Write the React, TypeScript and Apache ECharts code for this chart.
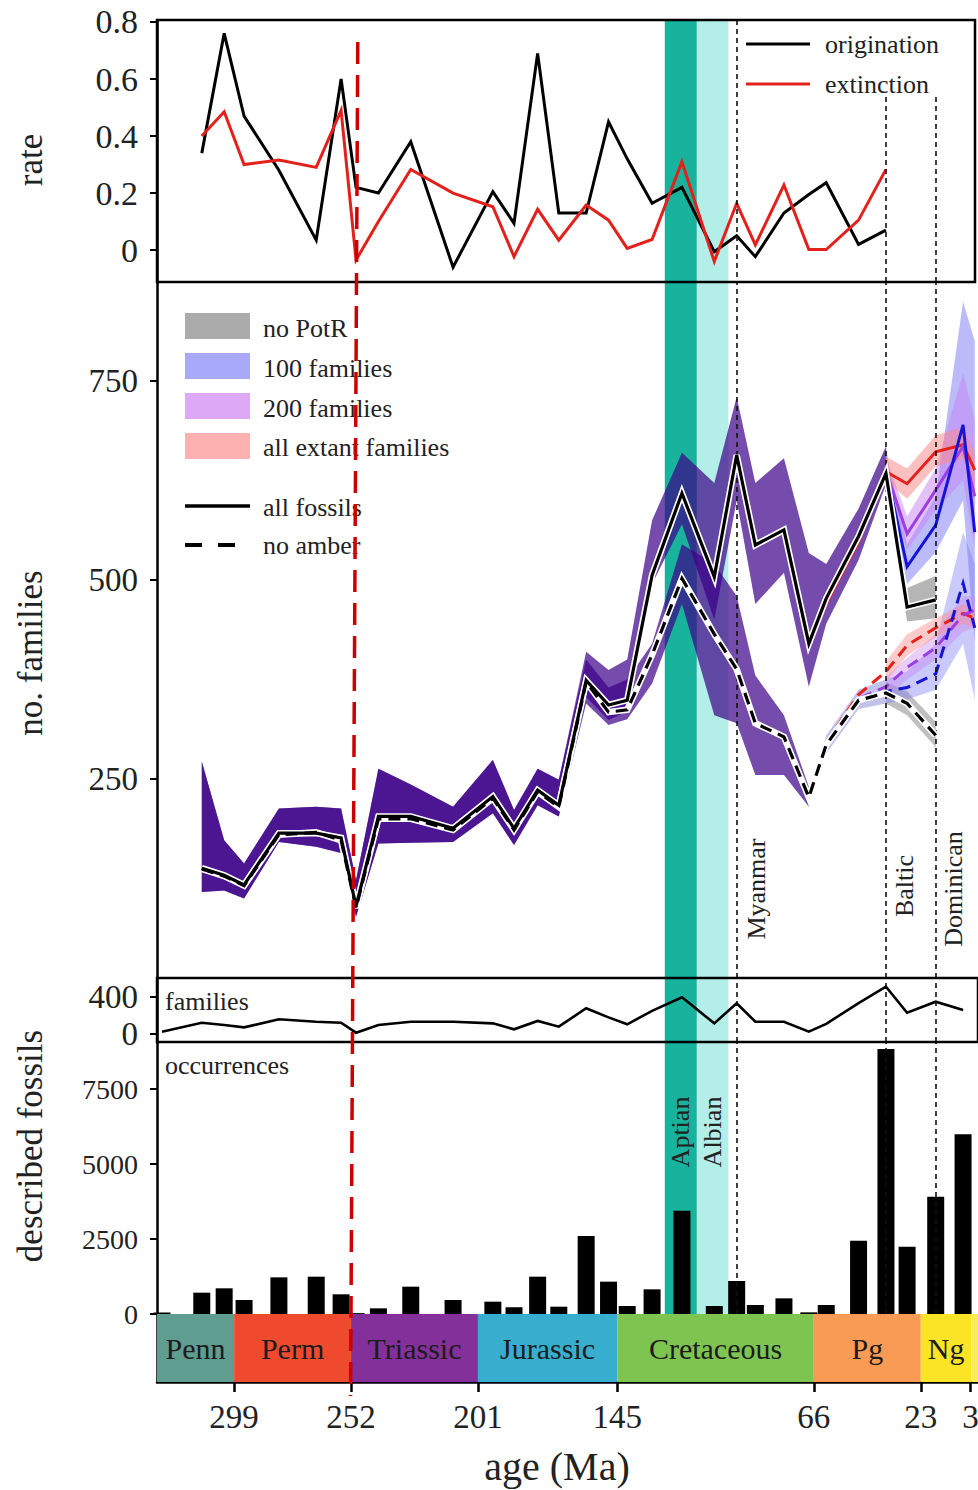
import { useEffect, useRef } from 'react';
import * as echarts from 'echarts';

const FONT = "'Liberation Serif', 'Times New Roman', Times, serif";

// bin ages (Ma)
const AGES = [328, 312, 303, 295, 281, 266, 256, 250, 241, 228, 211, 195, 186.5, 177, 168.5, 157.5, 148.5, 141, 131, 119, 106, 97, 89.5, 78, 68, 61, 48, 37, 28.5, 17, 6, 1.3];

// rate panel
const ORIGINATION = [null, 0.34, 0.76, 0.47, 0.28, 0.035, 0.6, 0.22, 0.2, 0.38, -0.06, 0.205, 0.094, 0.69, 0.13, 0.13, 0.45, 0.32, 0.164, 0.22, -0.006, 0.05, -0.023, 0.13, 0.195, 0.236, 0.02, 0.07, null, null, null, null];
const EXTINCTION = [null, 0.4, 0.485, 0.3, 0.316, 0.29, 0.49, -0.035, 0.1, 0.283, 0.2, 0.152, -0.023, 0.143, 0.035, 0.158, 0.105, 0.006, 0.037, 0.31, -0.04, 0.164, 0.018, 0.228, 0.002, 0.002, 0.105, 0.283, null, null, null, null];

// no. families panel
const ALL_FOSSILS = [null, 138, 129, 117, 182, 182, 176, 90, 203, 203, 188, 228, 188, 236, 217, 374, 343, 349, 506, 609, 504, 657, 544, 563, 420, 477, 555, 634, 466, 475, null, null];
const NO_AMBER = [null, 137, 128, 116, 180, 183, 173, 88, 200, 200, 186, 226, 186, 234, 215, 372, 334, 337, 406, 502, 432, 388, 320, 303, 227, 293, 349, 358, 345, 305, null, null];
const ALL_LO = [null, 108, 110, 100, 171, 165, 157, 77, 169, 170, 171, 207, 167, 217, 203, 353, 324, 335, 495, 570, 450, 600, 470, 509, 366, 445, 525, 620, null, null, null, null];
const ALL_HI = [null, 272, 173, 144, 213, 215, 213, 123, 263, 243, 215, 274, 211, 263, 249, 410, 387, 400, 575, 660, 622, 730, 622, 653, 534, 520, 590, 668, null, null, null, null];
const NA_LO = [null, 108, 110, 100, 171, 165, 157, 77, 169, 170, 171, 207, 167, 217, 203, 345, 318, 325, 370, 470, 330, 320, 255, 255, 215, null, null, null, null, null, null, null];
const NA_HI = [null, 272, 173, 144, 213, 215, 213, 123, 263, 243, 215, 274, 211, 263, 249, 400, 365, 375, 420, 545, 520, 480, 380, 330, 240, null, null, null, null, null, null, null];

const CENO_AGES = [68, 61, 48, 37, 28.5, 17, 6, 1.3];
const EXTANT = [418, 470, 548, 636, 621, 661, 670, 638];
const FAM200 = [420, 474, 552, 638, 558, 613, 668, 605];
const FAM100 = [420, 475, 553, 638, 517, 569, 695, 560];
const EXTANT_NA = [227, 296, 356, 385, 418, 440, 458, 452];
const FAM200_NA = [227, 294, 351, 366, 390, 415, 456, 462];
const FAM100_NA = [227, 293, 349, 360, 365, 382, 496, 440];
const NA_LATE_LO = [222, 282, 338, 345, null, null, null, null];
const NA_LATE_HI = [234, 305, 362, 375, null, null, null, null];

const LATE_AGES = [37, 28.5, 17, 6, 1.3];
const GRAY_LO = [618, 448, 452, null, null];
const GRAY_HI = [668, 490, 505, null, null];
const BLUE_LO = [622, 495, 535, 600, 420];
const BLUE_HI = [660, 545, 605, 850, 800];
const LILAC_LO = [624, 538, 588, 625, 540];
const LILAC_HI = [655, 580, 640, 760, 700];
const PINK_LO = [625, 602, 643, 652, 618];
const PINK_HI = [655, 640, 682, 692, 660];
const GRAY_NA_LO = [345, 330, 290, null, null];
const GRAY_NA_HI = [372, 360, 322, null, null];
const BLUE_NA_LO = [345, 350, 362, 420, 350];
const BLUE_NA_HI = [375, 385, 420, 560, 520];
const LILAC_NA_LO = [352, 375, 400, 435, 440];
const LILAC_NA_HI = [378, 402, 432, 480, 480];
const PINK_NA_LO = [372, 405, 428, 445, 440];
const PINK_NA_HI = [398, 432, 452, 470, 465];

// described fossils
const FAMILIES = [25, 122, 97, 72, 159, 133, 122, 14, 97, 133, 133, 115, 51, 141, 79, 278, 180, 105, 250, 397, 115, 332, 133, 133, 25, 110, 334, 511, 230, 349, 259, null];
const OCCURRENCES = [50, 711, 856, 467, 1222, 1244, 656, 30, 189, 911, 467, 411, 222, 1244, 244, 2600, 1078, 267, 822, 3444, 267, 1100, 300, 522, 55, 300, 2444, 8833, 2244, 3911, 5989, null];

// periods
const PERIOD_NAMES = ['Penn', 'Perm', 'Triassic', 'Jurassic', 'Cretaceous', 'Pg', 'Ng', ''];
const PERIOD_START = [330, 299, 252, 201, 145, 66, 23, 2.6];
const PERIOD_END = [299, 252, 201, 145, 66, 23, 2.6, 0];
const PERIOD_COLORS = ['#5f9d90', '#ef4a2e', '#84309b', '#37aecd', '#7ec450', '#f99b55', '#fbe326', '#f8ec5a'];
const AGE_TICKS = [299, 252, 201, 145, 66, 23, 3];

// stages & amber deposits
const STAGE_NAMES = ['Aptian', 'Albian'];
const STAGE_START = [125.9, 113];
const STAGE_END = [113, 100.3];
const STAGE_COLORS = ['#19b29c', '#b4eee8'];
const AMBER_NAMES = ['Myanmar', 'Baltic', 'Dominican'];
const AMBER_AGES = [97, 37, 17];

const RATE_TICKS = [0, 0.2, 0.4, 0.6, 0.8];
const FAM_TICKS = [250, 500, 750];
const DESC_FAM_TICKS = [0, 400];
const OCC_TICKS = [0, 2500, 5000, 7500];

function pairs(ages: number[], vals: (number | null)[]) {
  const out: number[][] = [];
  ages.forEach((a, i) => {
    const v = vals[i];
    if (v !== null && v !== undefined) out.push([a, v]);
  });
  return out;
}

function band(id: string, ages: number[], lo: (number | null)[], hi: (number | null)[], color: string, xi: number) {
  const pts: number[][] = [];
  ages.forEach((a, i) => {
    if (lo[i] != null && hi[i] != null) pts.push([a, lo[i] as number, hi[i] as number]);
  });
  return {
    type: 'custom', id, xAxisIndex: xi, yAxisIndex: xi, silent: true, z: 2,
    data: pts,
    encode: { x: 0, y: [1, 2] },
    renderItem: (params: any, api: any) => {
      if (params.dataIndex !== 0) return null;
      const upper = pts.map((p) => api.coord([p[0], p[2]]));
      const lower = pts.map((p) => api.coord([p[0], p[1]])).reverse();
      return { type: 'polygon', shape: { points: upper.concat(lower) }, style: { fill: color } };
    },
  };
}

function line(ages: number[], vals: (number | null)[], color: string, width: number, xi: number, z: number, dash?: number[]) {
  return {
    type: 'line', xAxisIndex: xi, yAxisIndex: xi, silent: true, z,
    data: pairs(ages, vals), symbol: 'none', showSymbol: false,
    lineStyle: { color, width, type: dash ? dash : 'solid', cap: 'butt', join: 'miter' },
  };
}

const axisBlack = { color: '#000', width: 2.5 };

function yAxis(gi: number, min: number, max: number, ticks: number[] | null, fontSize: number, fmt?: (v: number) => string) {
  return {
    gridIndex: gi, type: 'value', min, max,
    axisLine: { show: true, onZero: false, lineStyle: axisBlack },
    axisTick: ticks ? { show: true, customValues: ticks, length: 7, lineStyle: { color: '#000', width: 2 } } : { show: false },
    axisLabel: ticks
      ? { show: true, customValues: ticks, fontSize, fontFamily: FONT, color: '#222', margin: 19, formatter: fmt || ((v: number) => String(v)) }
      : { show: false },
    splitLine: { show: false },
  };
}

function xAxis(gi: number, min: number, bottom: boolean) {
  return {
    gridIndex: gi, type: 'value', inverse: true, min, max: 330,
    axisLine: { show: bottom, onZero: false, lineStyle: axisBlack },
    axisTick: bottom ? { show: true, customValues: AGE_TICKS, length: 10, lineStyle: { color: '#000', width: 2.5 } } : { show: false },
    axisLabel: bottom ? { show: true, customValues: AGE_TICKS, fontSize: 33, fontFamily: FONT, color: '#222', margin: 18, hideOverlap: false } : { show: false },
    splitLine: { show: false },
  };
}

function markerSeries(gi: number) {
  const lines = AMBER_AGES.map((a, i) => {
    if (gi === 0) {
      const top = i === 0 ? 0.807 : 0.537;
      return [{ coord: [a, top] }, { coord: [a, -0.112] }];
    }
    return { xAxis: a };
  });
  return {
    type: 'line', xAxisIndex: gi, yAxisIndex: gi, data: [], z: 1, silent: true,
    markArea: {
      silent: true, label: { show: false },
      data: STAGE_NAMES.map((n, i) => [
        { xAxis: STAGE_START[i], name: n, itemStyle: { color: STAGE_COLORS[i], opacity: 1 } },
        { xAxis: STAGE_END[i] },
      ]),
    },
    markLine: {
      silent: true, symbol: ['none', 'none'], label: { show: false },
      lineStyle: { color: '#111', width: 1.6, type: [5, 4] },
      data: lines,
    },
  };
}

export default function App() {
  const ref = useRef<HTMLDivElement>(null);

  useEffect(() => {
    if (!ref.current) return;
    const chart = echarts.init(ref.current, undefined, { renderer: 'svg' });

    const BAND = 'rgba(58,0,135,0.7)';
    const series: any[] = [];
    [0, 1, 2, 3].forEach((g) => series.push(markerSeries(g)));

    // periods
    series.push({
      type: 'line', xAxisIndex: 4, yAxisIndex: 4, data: [], silent: true,
      markArea: {
        silent: true,
        label: { show: true, position: 'inside', fontSize: 30, fontFamily: FONT, color: '#1c1c1c' },
        data: PERIOD_NAMES.map((n, i) => [
          { xAxis: PERIOD_START[i], name: n, itemStyle: { color: PERIOD_COLORS[i], opacity: 1 } },
          { xAxis: PERIOD_END[i] },
        ]),
      },
    });

    // rate
    series.push(line(AGES, ORIGINATION, '#000', 3, 0, 3));
    series.push(line(AGES, EXTINCTION, '#e3211c', 3, 0, 3));

    // bands
    series.push(band('all', AGES, ALL_LO, ALL_HI, BAND, 1));
    series.push(band('na', AGES, NA_LO, NA_HI, BAND, 1));
    series.push(band('naLate', CENO_AGES, NA_LATE_LO, NA_LATE_HI, 'rgba(120,120,210,0.45)', 1));
    series.push(band('gray', LATE_AGES, GRAY_LO, GRAY_HI, 'rgba(150,150,150,0.7)', 1));
    series.push(band('blue', LATE_AGES, BLUE_LO, BLUE_HI, 'rgba(120,120,245,0.5)', 1));
    series.push(band('lilac', LATE_AGES, LILAC_LO, LILAC_HI, 'rgba(200,130,245,0.5)', 1));
    series.push(band('pink', LATE_AGES, PINK_LO, PINK_HI, 'rgba(250,140,140,0.55)', 1));
    series.push(band('grayNa', LATE_AGES, GRAY_NA_LO, GRAY_NA_HI, 'rgba(150,150,150,0.6)', 1));
    series.push(band('blueNa', LATE_AGES, BLUE_NA_LO, BLUE_NA_HI, 'rgba(120,120,245,0.4)', 1));
    series.push(band('lilacNa', LATE_AGES, LILAC_NA_LO, LILAC_NA_HI, 'rgba(200,130,245,0.4)', 1));
    series.push(band('pinkNa', LATE_AGES, PINK_NA_LO, PINK_NA_HI, 'rgba(250,140,140,0.45)', 1));

    // colored lines
    series.push(line(CENO_AGES, EXTANT_NA, '#e8201c', 3, 1, 4, [12, 7]));
    series.push(line(CENO_AGES, FAM200_NA, '#9b3fe0', 3, 1, 4, [12, 7]));
    series.push(line(CENO_AGES, FAM100_NA, '#1414d8', 3, 1, 4, [12, 7]));
    series.push(line(CENO_AGES, EXTANT, '#e8201c', 3, 1, 4));
    series.push(line(CENO_AGES, FAM200, '#9b3fe0', 3, 1, 4));
    series.push(line(CENO_AGES, FAM100, '#1414d8', 3, 1, 4));
    // black with white halo
    series.push(line(AGES, NO_AMBER, '#ffffff', 6.5, 1, 5));
    series.push(line(AGES, NO_AMBER, '#000', 3.2, 1, 6, [12, 7]));
    series.push(line(AGES, ALL_FOSSILS, '#ffffff', 6.5, 1, 5));
    series.push(line(AGES, ALL_FOSSILS, '#000', 3.2, 1, 6));

    // families
    series.push(line(AGES, FAMILIES, '#000', 2.6, 2, 3));
    // occurrences
    series.push({
      type: 'bar', xAxisIndex: 3, yAxisIndex: 3, silent: true, z: 3,
      data: pairs(AGES, OCCURRENCES), barWidth: 17, itemStyle: { color: '#000' },
    });

    const gridBase = { left: 157, width: 821, outerBoundsMode: 'none', containLabel: false };
    const option: any = {
      animation: false,
      backgroundColor: '#ffffff',
      grid: [
        { ...gridBase, top: 20, width: 818, height: 262, show: true, borderColor: '#000', borderWidth: 2.5, backgroundColor: 'transparent', z: 10 },
        { ...gridBase, top: 282, height: 696 },
        { ...gridBase, top: 978, height: 64, show: true, borderColor: '#000', borderWidth: 2.5, backgroundColor: 'transparent', z: 10 },
        { ...gridBase, top: 1042, height: 272 },
        { ...gridBase, top: 1314, height: 68 },
      ],
      xAxis: [xAxis(0, 1.2, false), xAxis(1, 0, false), xAxis(2, 0, false), xAxis(3, 0, false), xAxis(4, 0, true)],
      yAxis: [
        yAxis(0, -0.112, 0.807, RATE_TICKS, 34, (v: number) => (v === 0 ? '0' : v.toFixed(1))),
        yAxis(1, 0, 874.4, FAM_TICKS, 33),
        yAxis(2, -86.5, 605.4, DESC_FAM_TICKS, 33),
        yAxis(3, 0, 9067, OCC_TICKS, 28),
        yAxis(4, 0, 1, null, 12),
      ],
      series,
    };
    chart.setOption(option);

    const X = (a: number) => chart.convertToPixel({ xAxisIndex: 1 }, a) as unknown as number;
    const txt = (text: string, x: number, y: number, size: number, rot = 0, align = 'left') => ({
      type: 'text', x, y, rotation: rot, z: 50, silent: true,
      style: { text, fill: '#222', fontSize: size, fontFamily: FONT, textAlign: align, textVerticalAlign: 'middle', align, verticalAlign: 'middle' },
    });
    const R = Math.PI / 2;
    const legendRects = [
      { y: 313, color: '#ababab', label: 'no PotR', ty: 328 },
      { y: 353, color: '#a9a9fa', label: '100 families', ty: 368 },
      { y: 393, color: '#dda9f7', label: '200 families', ty: 408 },
      { y: 433, color: '#fdb1b1', label: 'all extant families', ty: 447 },
    ];
    const graphic: any[] = [];
    legendRects.forEach((r) => {
      graphic.push({ type: 'rect', z: 40, silent: true, shape: { x: 185, y: r.y, width: 65, height: 26 }, style: { fill: r.color } });
      graphic.push(txt(r.label, 263, r.ty, 26));
    });
    graphic.push({ type: 'line', z: 40, silent: true, shape: { x1: 185, y1: 506, x2: 250, y2: 506 }, style: { stroke: '#000', lineWidth: 3.5 } });
    graphic.push(txt('all fossils', 263, 507, 26));
    graphic.push({ type: 'line', z: 40, silent: true, shape: { x1: 185, y1: 545, x2: 250, y2: 545 }, style: { stroke: '#000', lineWidth: 4, lineDash: [17, 16] } });
    graphic.push(txt('no amber', 263, 545, 26));

    graphic.push({ type: 'line', z: 40, silent: true, shape: { x1: 746, y1: 44, x2: 810, y2: 44 }, style: { stroke: '#000', lineWidth: 3 } });
    graphic.push(txt('origination', 825, 44, 26));
    graphic.push({ type: 'line', z: 40, silent: true, shape: { x1: 746, y1: 84, x2: 810, y2: 84 }, style: { stroke: '#e3211c', lineWidth: 3 } });
    graphic.push(txt('extinction', 825, 84, 26));

    graphic.push(txt('families', 165, 1001, 26));
    graphic.push(txt('occurrences', 165, 1065, 26));

    const amberOffsets = [20, 19, 18];
    const amberY = [889, 886, 889];
    AMBER_NAMES.forEach((n, i) => graphic.push(txt(n, X(AMBER_AGES[i]) + amberOffsets[i], amberY[i], 26, R, 'center')));
    STAGE_NAMES.forEach((n, i) => graphic.push(txt(n, X((STAGE_START[i] + STAGE_END[i]) / 2), 1132, 26, R, 'center')));

    graphic.push(txt('rate', 30, 160, 35, R, 'center'));
    graphic.push(txt('no. families', 30, 653, 35, R, 'center'));
    graphic.push(txt('described fossils', 30, 1146, 35, R, 'center'));
    graphic.push(txt('age (Ma)', 557, 1466, 40, 0, 'center'));

    graphic.push({
      type: 'line', z: 100, silent: true,
      shape: { x1: X(249.3), y1: 42, x2: X(252.2), y2: 1396 },
      style: { stroke: '#cc0000', lineWidth: 3.5, lineDash: [22, 11] },
    });

    chart.setOption({ graphic });

    return () => chart.dispose();
  }, []);

  return <div ref={ref} style={{ position: 'absolute', left: 0, top: 0, width: 978, height: 1490 }} />;
}
